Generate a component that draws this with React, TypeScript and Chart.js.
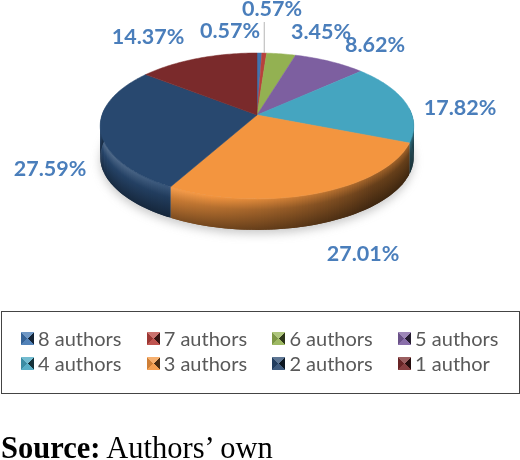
import React, { useEffect, useRef } from "react";
import { Chart, registerables } from "chart.js";

Chart.register(...registerables);

const categories = ["8 authors", "7 authors", "6 authors", "5 authors", "4 authors", "3 authors", "2 authors", "1 author"];
const shares = [0.57, 0.57, 3.45, 8.62, 17.82, 27.01, 27.59, 14.37];
const colors = ["#3f74b0", "#b8413c", "#93b152", "#7d5fa0", "#45a5c0", "#f3953f", "#28486f", "#7a2a2b"];
const labelSpots = [[230, 31], [272, 9], [321, 32], [375, 45], [460, 108], [363, 254], [50, 169], [148, 37]];

const TILT = 0.15;
const SQUASH = 0.46;
const DEPTH = 31;

const shade = (hex: string, f: number) => {
  const n = parseInt(hex.slice(1), 16);
  const mix = (c: number) => Math.round(f <= 1 ? c * f : c + (255 - c) * (f - 1));
  return `rgb(${mix(n >> 16)},${mix((n >> 8) & 255)},${mix(n & 255)})`;
};

// flat pie point -> screen, near edge bigger than far edge
const project = (arc: any, angle: number, r: number) => {
  const u = Math.cos(angle) * r;
  const v = Math.sin(angle) * r;
  const w = 1 - (TILT * v) / arc.outerRadius;
  return { x: arc.x + u / w, y: arc.y + (SQUASH * v) / w };
};

const pie3d = {
  id: "pie3d",
  beforeDatasetsDraw(chart: any) {
    const ctx = chart.ctx;
    const arcs = chart.getDatasetMeta(0).data;
    const step = Math.PI / 180;

    // soft shadow under the disc
    ctx.save();
    ctx.filter = "blur(5px)";
    ctx.fillStyle = "rgba(120,120,120,0.4)";
    ctx.beginPath();
    for (let a = 0; a < Math.PI * 2; a += step * 4) {
      const p = project(arcs[0], a, arcs[0].outerRadius);
      ctx.lineTo(p.x, p.y + DEPTH + 4);
    }
    ctx.fill();
    ctx.restore();

    // side wall, cut in small strips so the light can run round it
    arcs.forEach((arc: any, i: number) => {
      for (let a = arc.startAngle; a < arc.endAngle; a += step) {
        const end = Math.min(a + step * 2, arc.endAngle);
        const p0 = project(arc, a, arc.outerRadius);
        const p1 = project(arc, end, arc.outerRadius);
        if (Math.sin(a) < -0.1) continue;
        const light = Math.max(0.42, 0.6 + 0.35 * -Math.cos(a + 0.2));
        const g = ctx.createLinearGradient(0, p0.y, 0, p0.y + DEPTH);
        g.addColorStop(0, shade(colors[i], light + 0.25));
        g.addColorStop(0.35, shade(colors[i], light));
        g.addColorStop(1, shade(colors[i], light * 0.62));
        ctx.fillStyle = g;
        ctx.beginPath();
        ctx.moveTo(p0.x, p0.y);
        ctx.lineTo(p1.x, p1.y);
        ctx.lineTo(p1.x, p1.y + DEPTH);
        ctx.lineTo(p0.x, p0.y + DEPTH);
        ctx.closePath();
        ctx.fill();
      }
    });

    // top face
    arcs.forEach((arc: any, i: number) => {
      ctx.fillStyle = colors[i];
      ctx.strokeStyle = colors[i];
      ctx.lineWidth = 0.5;
      ctx.beginPath();
      ctx.moveTo(arc.x, arc.y);
      for (let a = arc.startAngle; a < arc.endAngle; a += step) {
        const p = project(arc, a, arc.outerRadius);
        ctx.lineTo(p.x, p.y);
      }
      const last = project(arc, arc.endAngle, arc.outerRadius);
      ctx.lineTo(last.x, last.y);
      ctx.closePath();
      ctx.fill();
      ctx.stroke();
    });
    return false;
  },
  afterDraw(chart: any) {
    const ctx = chart.ctx;
    const arcs = chart.getDatasetMeta(0).data;

    // leader line of the 7 authors label
    const mid = (arcs[1].startAngle + arcs[1].endAngle) / 2;
    const edge = project(arcs[1], mid, arcs[1].outerRadius);
    ctx.strokeStyle = "#b5b5b5";
    ctx.lineWidth = 1;
    ctx.beginPath();
    ctx.moveTo(edge.x, edge.y);
    ctx.lineTo(edge.x, 22);
    ctx.stroke();

    ctx.font = "bold 21.5px Lato";
    ctx.fillStyle = "#4a7ebb";
    ctx.textAlign = "center";
    ctx.textBaseline = "middle";
    shares.forEach((v, i) => {
      ctx.fillText(v.toFixed(2) + "%", labelSpots[i][0], labelSpots[i][1]);
    });
  },
};

const Swatch = ({ color }: { color: string }) => (
  <span
    style={{
      display: "inline-block",
      width: 13,
      height: 13,
      marginRight: 4,
      flex: "none",
      background: `conic-gradient(${shade(color, 1.25)} 0 45deg, ${shade(color, 0.3)} 45deg 135deg, ${shade(color, 1.1)} 135deg 225deg, ${shade(color, 0.85)} 225deg 315deg, ${shade(color, 1.25)} 315deg)`,
    }}
  />
);

const App: React.FC = () => {
  const canvasRef = useRef<HTMLCanvasElement | null>(null);

  useEffect(() => {
    document.body.style.margin = "0";
    if (!canvasRef.current) return;
    const chart = new Chart(canvasRef.current, {
      type: "pie",
      data: {
        labels: categories,
        datasets: [{ data: shares, backgroundColor: colors, borderWidth: 0 }],
      },
      options: {
        responsive: false,
        animation: false,
        radius: 155,
        layout: { padding: { right: 6, bottom: 230 } },
        plugins: { legend: { display: false }, tooltip: { enabled: false } },
      } as any,
      plugins: [pie3d],
    });
    return () => chart.destroy();
  }, []);

  return (
    <div style={{ position: "relative", width: 520, height: 460, background: "#fff", overflow: "hidden" }}>
      <canvas ref={canvasRef} width={520} height={460} style={{ position: "absolute", left: 0, top: 0 }} />
      <div
        style={{
          position: "absolute",
          left: 1,
          top: 311,
          width: 517,
          height: 81,
          border: "1px solid #444",
          boxSizing: "content-box",
        }}
      >
        {categories.map((c, i) => (
          <div
            key={c}
            style={{
              position: "absolute",
              left: 19 + (i % 4) * 125.7,
              top: 14 + Math.floor(i / 4) * 25,
              display: "flex",
              alignItems: "center",
              font: "20px Lato",
              color: "#595959",
              lineHeight: "25px",
              whiteSpace: "nowrap",
            }}
          >
            <Swatch color={colors[i]} />
            {c}
          </div>
        ))}
      </div>
      <div
        style={{
          position: "absolute",
          left: 1,
          top: 431,
          font: "30.5px 'Liberation Serif'",
          lineHeight: "34px",
          color: "#000",
          whiteSpace: "nowrap",
        }}
      >
        <b>Source:</b> Authors’ own
      </div>
    </div>
  );
};

export default App;
